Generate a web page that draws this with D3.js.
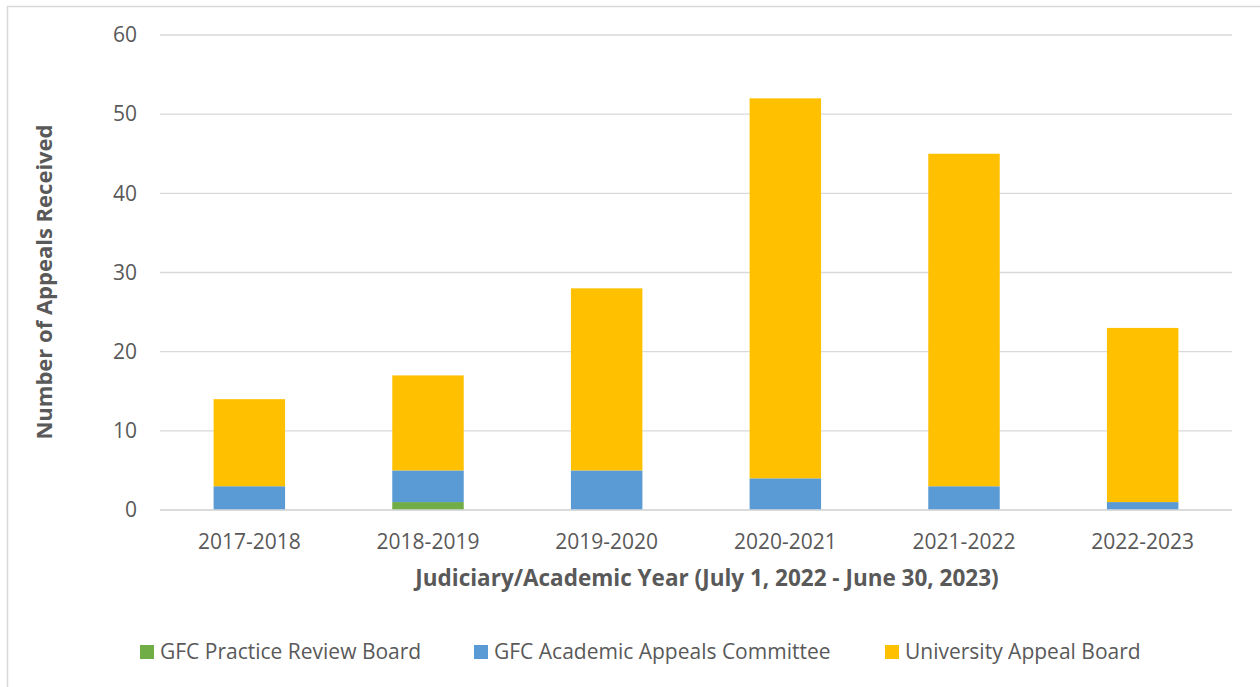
<!DOCTYPE html>
<html>
<head>
<meta charset="utf-8">
<script src="https://cdn.jsdelivr.net/npm/d3@7"></script>
<style>
  html, body { margin: 0; padding: 0; background: #fff; }
  svg { display: block; }
  text { font-family: "Open Sans", "Liberation Sans", sans-serif; fill: #595959; }
</style>
</head>
<body>
<svg id="chart" width="1260" height="687"></svg>
<script>
const years = ["2017-2018", "2018-2019", "2019-2020", "2020-2021", "2021-2022", "2022-2023"];
const practiceReview = [0, 1, 0, 0, 0, 0];
const academicAppeals = [3, 4, 5, 4, 3, 1];
const universityAppeal = [11, 12, 23, 48, 42, 22];
const seriesNames = ["GFC Practice Review Board", "GFC Academic Appeals Committee", "University Appeal Board"];
const seriesColors = ["#70AD47", "#5B9BD5", "#FFC000"];
const yTicks = [0, 10, 20, 30, 40, 50, 60];

const svg = d3.select("#chart");
const W = 1260, H = 687;
const m = { left: 160, right: 1232, top: 35, bottom: 510 };

// outer border
svg.append("rect").attr("x", 7.5).attr("y", 6.5).attr("width", W + 10).attr("height", H + 10)
  .attr("fill", "none").attr("stroke", "#d9d9d9").attr("stroke-width", 1.5);

const x = d3.scaleBand().domain(years).range([m.left, m.right]).paddingInner(0.6).paddingOuter(0.3);
const y = d3.scaleLinear().domain([0, 60]).range([m.bottom, m.top]);

// gridlines
svg.append("g").selectAll("line").data(yTicks).join("line")
  .attr("x1", m.left).attr("x2", m.right)
  .attr("y1", d => y(d)).attr("y2", d => y(d))
  .attr("stroke", "#d9d9d9").attr("stroke-width", 1.3);

// y axis labels
const yAxis = d3.axisLeft(y).tickValues(yTicks).tickSize(0).tickPadding(0);
const yg = svg.append("g").attr("transform", `translate(${137},0)`).call(yAxis);
yg.select(".domain").remove();
yg.selectAll("text").attr("font-size", 21).attr("fill", "#595959")
  .style("font-family", "'Open Sans', sans-serif");

// stacked data
const rows = years.map((yr, i) => ({ year: yr, p: practiceReview[i], a: academicAppeals[i], u: universityAppeal[i] }));
const stack = d3.stack().keys(["p", "a", "u"])(rows);

svg.append("g").selectAll("g").data(stack).join("g")
  .attr("fill", (d, i) => seriesColors[i])
  .selectAll("rect").data(d => d).join("rect")
  .attr("x", d => x(d.data.year))
  .attr("width", x.bandwidth())
  .attr("y", d => y(d[1]))
  .attr("height", d => y(d[0]) - y(d[1]));

// baseline
svg.append("line").attr("x1", m.left).attr("x2", m.right).attr("y1", y(0)).attr("y2", y(0))
  .attr("stroke", "#d9d9d9").attr("stroke-width", 1.3);

// x axis labels
const xAxis = d3.axisBottom(x).tickSize(0).tickPadding(0);
const xg = svg.append("g").attr("transform", `translate(0,${534})`).call(xAxis);
xg.select(".domain").remove();
xg.selectAll("text").attr("font-size", 21).attr("fill", "#595959")
  .style("font-family", "'Open Sans', sans-serif");

// axis titles
svg.append("text").attr("x", 707).attr("y", 586).attr("text-anchor", "middle")
  .attr("font-size", 22.5).attr("font-weight", "bold")
  .text("Judiciary/Academic Year (July 1, 2022 - June 30, 2023)");
svg.append("text").attr("transform", "translate(52,282) rotate(-90)").attr("text-anchor", "middle")
  .attr("font-size", 22).attr("font-weight", "bold")
  .text("Number of Appeals Received");

// legend
const legendX = [140, 474, 885];
const lg = svg.append("g").selectAll("g").data(seriesNames).join("g")
  .attr("transform", (d, i) => `translate(${legendX[i]},645)`);
lg.append("rect").attr("width", 14).attr("height", 14).attr("fill", (d, i) => seriesColors[i]);
lg.append("text").attr("x", 20).attr("y", 14).attr("font-size", 21).text(d => d);
</script>
</body>
</html>
